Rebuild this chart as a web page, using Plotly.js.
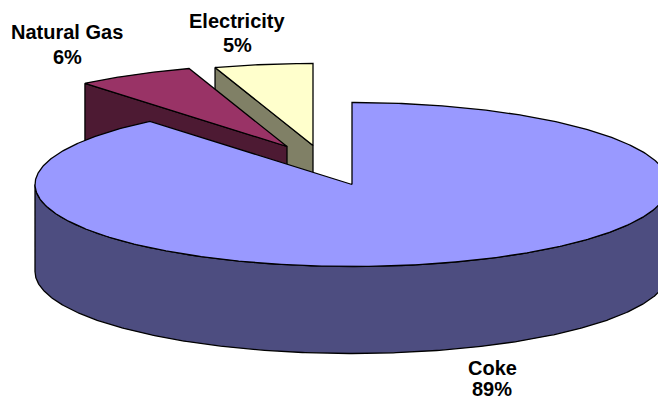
<!DOCTYPE html>
<html>
<head>
<meta charset="utf-8">
<script src="https://cdn.plot.ly/plotly-3.0.1.min.js"></script>
<style>html,body{margin:0;padding:0;background:#fff}#chart{width:658px;height:400px}</style>
</head>
<body>
<div id="chart"></div>
<script>
// Energy sources, percent share
const categories = ['Coke', 'Natural Gas', 'Electricity'];
const shares = [89, 6, 5];

// Slice colours: top face and side wall
const topColors = ['#9999FF', '#993366', '#FFFFCC'];
const wallColors = ['#4D4D80', '#4D1A33', '#808066'];

// Pull-out distance of each slice and its label anchors, in axis units
const explodeX = [0, -65, -39];
const explodeY = [0, -38, -39];
const labelX = [492, 67, 237];
const nameY = [368, 32, 21];
const percentY = [389, 57, 45];

// Tilted disc geometry
const cx = 352, cy = 184.5, rx = 317, ry = 82, depth = 87;
const total = shares.reduce((a, b) => a + b, 0);

function rim(deg, i, drop) {
  const t = deg * Math.PI / 180;
  return [cx + explodeX[i] + rx * Math.sin(t), cy + explodeY[i] - ry * Math.cos(t) + (drop || 0)];
}
function arc(from, to, i, drop) {
  const pts = [], n = Math.max(2, Math.ceil(Math.abs(to - from) * 2));
  for (let k = 0; k <= n; k++) pts.push(rim(from + (to - from) * k / n, i, drop));
  return pts;
}
function face(pts, color) {
  const closed = pts.concat([pts[0]]);
  return {
    type: 'scatter', mode: 'lines', fill: 'toself', fillcolor: color,
    x: closed.map(p => p[0]), y: closed.map(p => p[1]),
    line: {color: '#000', width: 1.3}, hoverinfo: 'skip', showlegend: false
  };
}

// Slice angle ranges, clockwise from twelve o'clock
const spans = [];
let running = 0;
shares.forEach(v => { spans.push([running, running + v / total * 360]); running += v / total * 360; });

const traces = [];
// Back slices first, so the large slice overlaps them
[2, 1].forEach(i => {
  const [a, b] = spans[i];
  const apex = [cx + explodeX[i], cy + explodeY[i]];
  const start = rim(a, i), startLow = rim(a, i, depth);
  traces.push(face([start, apex, [apex[0], apex[1] + depth], startLow], wallColors[i]));
  traces.push(face([apex].concat(arc(a, b, i)), topColors[i]));
});
// Large slice: outer wall along the front half, then its top face
traces.push(face(arc(90, 270, 0).concat(arc(270, 90, 0, depth)), wallColors[0]));
traces.push(face([[cx + explodeX[0], cy + explodeY[0]]].concat(arc(spans[0][0], spans[0][1], 0)), topColors[0]));

const labelFont = {family: 'Liberation Sans, Arial, sans-serif', size: 20, color: '#000', weight: 700};
const annotations = [];
categories.forEach((c, i) => {
  annotations.push({x: labelX[i], y: nameY[i], xref: 'x', yref: 'y', showarrow: false, text: c, font: labelFont});
  annotations.push({x: labelX[i], y: percentY[i], xref: 'x', yref: 'y', showarrow: false, text: shares[i] + '%', font: labelFont});
});

const hidden = {visible: false, fixedrange: true, autorange: false};
Plotly.newPlot('chart', traces, {
  width: 658, height: 400, autosize: false,
  margin: {l: 0, r: 0, t: 0, b: 0},
  paper_bgcolor: '#fff', plot_bgcolor: '#fff',
  xaxis: Object.assign({range: [0, 658]}, hidden),
  yaxis: Object.assign({range: [400, 0]}, hidden),
  annotations: annotations, showlegend: false
}, {displayModeBar: false, staticPlot: true});
</script>
</body>
</html>
